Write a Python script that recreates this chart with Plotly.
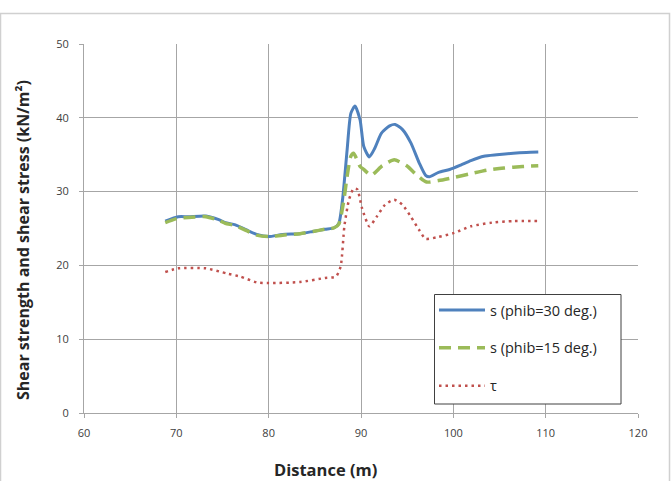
import plotly.graph_objects as go

# ---- data ----
x_s30 = [68.8, 70.2, 71.3, 73.2, 74.6, 75.3, 76.4, 77.6, 78.7, 80.0, 81.5, 83.4, 84.8, 86.1, 87.1, 87.6,
         88.0, 88.5, 88.9, 89.35, 89.9, 90.3, 90.9, 91.5, 92.2, 93.1, 93.7, 94.5, 95.4, 96.3, 97.0, 97.4,
         98.4, 99.6, 100.8, 101.9, 103.3, 104.7, 106.5, 107.9, 109.2]
y_s30 = [26.0, 26.6, 26.6, 26.7, 26.2, 25.8, 25.5, 24.8, 24.2, 23.9, 24.2, 24.3, 24.6, 24.9, 25.1, 25.7,
         28.9, 35.7, 40.6, 41.6, 39.7, 36.1, 34.7, 35.9, 37.9, 38.9, 39.1, 38.4, 36.6, 33.9, 32.2, 32.0,
         32.6, 33.0, 33.6, 34.2, 34.8, 35.0, 35.2, 35.3, 35.35]

x_s15 = [68.8, 70.2, 71.3, 73.2, 74.6, 75.3, 76.4, 77.6, 78.7, 80.0, 81.5, 83.4, 84.8, 86.1, 87.1, 87.6,
         88.1, 88.5, 88.9, 89.2, 89.9, 90.3, 91.1, 92.3, 93.6, 94.95, 96.0, 97.1, 98.4, 100.0, 101.8,
         103.6, 105.5, 107.5, 109.2]
y_s15 = [25.8, 26.4, 26.5, 26.6, 26.1, 25.7, 25.4, 24.7, 24.1, 23.9, 24.1, 24.3, 24.6, 24.9, 25.1, 25.6,
         28.5, 32.1, 34.8, 35.2, 33.4, 33.0, 32.2, 33.5, 34.3, 33.5, 32.3, 31.3, 31.5, 31.9, 32.4,
         32.9, 33.2, 33.4, 33.5]

x_tau = [68.8, 70.2, 73.2, 75.5, 76.9, 78.7, 80.0, 83.4, 86.1, 87.3, 87.8, 88.2, 88.7, 89.2, 89.6,
         90.1, 90.9, 91.7, 92.6, 93.6, 94.5, 95.4, 96.3, 97.0, 98.2, 100.1, 101.9, 104.2, 106.5, 109.2]
y_tau = [19.1, 19.6, 19.6, 18.9, 18.5, 17.7, 17.6, 17.75, 18.3, 18.5, 19.9, 25.3, 28.9, 30.4, 30.3,
         27.8, 25.3, 26.6, 28.2, 28.9, 28.2, 26.6, 24.8, 23.6, 23.8, 24.4, 25.3, 25.8, 26.0, 26.0]

x_ticks = [60, 70, 80, 90, 100, 110, 120]
y_ticks = [0, 10, 20, 30, 40, 50]

names = ["s (phib=30 deg.)", "s (phib=15 deg.)", "τ"]
colors = ["#4F81BD", "#9BBB59", "#C0504D"]

fig = go.Figure()
fig.add_trace(go.Scatter(x=x_s30, y=y_s30, mode="lines", name=names[0], legendgroup="a",
                         line=dict(color=colors[0], width=3, shape="spline", smoothing=0.6)))
fig.add_trace(go.Scatter(x=x_s15, y=y_s15, mode="lines", name=names[1], legendgroup="b",
                         line=dict(color=colors[1], width=3.5, shape="spline", smoothing=0.6,
                                   dash="12px,7px")))
fig.add_trace(go.Scatter(x=x_tau, y=y_tau, mode="lines", name=names[2], legendgroup="c",
                         line=dict(color=colors[2], width=2.5, shape="spline", smoothing=0.6,
                                   dash="2.5px,4px")))

L, R, T, B = 84, 33, 44, 68
W, H = 671, 481
pw, ph = W - L - R, H - T - B

def px2paper_x(px):
    return (px - L) / pw

def py2paper_y(py):
    return (H - B - py) / ph

grid = "#a6a6a6"
tickfont = dict(family="Open Sans, Liberation Sans, sans-serif", size=11, color="#404040")

fig.update_layout(
    width=W, height=H,
    margin=dict(l=L, r=R, t=T, b=B, pad=0),
    paper_bgcolor="white", plot_bgcolor="white",
    showlegend=True,
    legend=dict(
        x=px2paper_x(434), y=py2paper_y(294), xanchor="left", yanchor="top",
        bgcolor="rgba(0,0,0,0)", borderwidth=0,
        font=dict(family="Open Sans, Liberation Sans, sans-serif", size=14.5, color="#262626"),
        tracegroupgap=16, itemwidth=46,
    ),
    xaxis=dict(range=[60, 120], tickmode="array", tickvals=x_ticks, ticktext=[str(v) for v in x_ticks],
               showgrid=True, gridcolor=grid, gridwidth=1, zeroline=False,
               showline=True, linecolor=grid, linewidth=1, mirror=False,
               ticks="outside", ticklen=4, tickcolor=grid, tickfont=tickfont, ticklabelstandoff=6),
    yaxis=dict(range=[0, 50], tickmode="array", tickvals=y_ticks, ticktext=[str(v) for v in y_ticks],
               showgrid=True, gridcolor=grid, gridwidth=1, zeroline=False,
               showline=True, linecolor=grid, linewidth=1,
               ticks="outside", ticklen=4, tickcolor=grid, tickfont=tickfont, ticklabelstandoff=8),
)

# outer chart-area frame
fig.add_shape(type="rect", xref="paper", yref="paper", layer="below",
              x0=px2paper_x(0.5), x1=px2paper_x(669.5), y0=py2paper_y(482), y1=py2paper_y(13.5),
              line=dict(color="#d0d0d0", width=1.5), fillcolor="rgba(0,0,0,0)")

# legend box (white panel with dark border)
fig.add_shape(type="rect", xref="paper", yref="paper", layer="above",
              x0=px2paper_x(434.5), x1=px2paper_x(621), y0=py2paper_y(404), y1=py2paper_y(294.5),
              line=dict(color="#404040", width=1), fillcolor="white")

# axis titles
fig.add_annotation(text="<b>Distance (m)</b>", xref="paper", yref="paper",
                   x=px2paper_x(325), y=py2paper_y(469), xanchor="center", yanchor="middle",
                   showarrow=False, font=dict(family="Open Sans, sans-serif", size=16.5, color="#262626"))
fig.add_annotation(text="<b>Shear strength and shear stress (kN/m²)</b>", xref="paper", yref="paper",
                   x=px2paper_x(23), y=py2paper_y(240), xanchor="center", yanchor="middle", textangle=-90,
                   showarrow=False, font=dict(family="Open Sans, sans-serif", size=16, color="#262626"))

fig.write_html("out.html")
